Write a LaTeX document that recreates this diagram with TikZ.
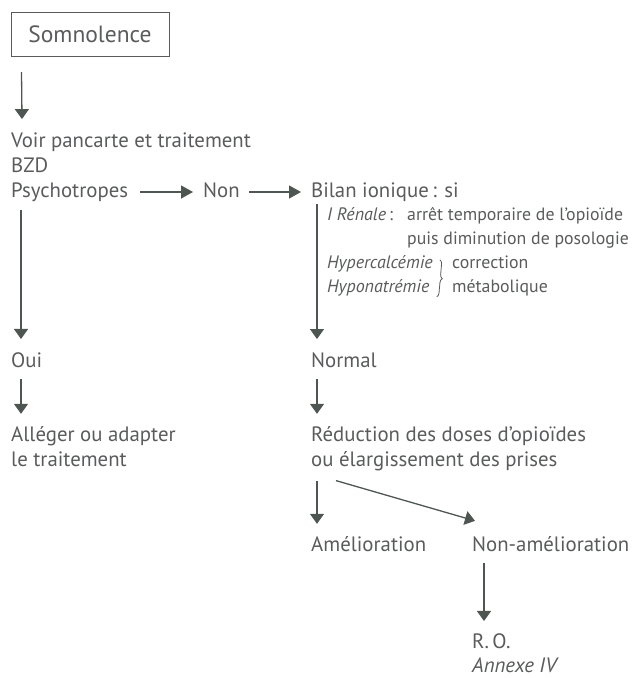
\documentclass[tikz,border=0pt]{standalone}
\usepackage{fontspec}
\setmainfont{PT Sans}
\usetikzlibrary{arrows.meta,decorations.pathreplacing}
\definecolor{txt}{HTML}{5A5B5C}
\definecolor{arrc}{HTML}{4E5652}
\tikzset{
  lbl/.style={anchor=base west,inner sep=0pt,text=txt,font=\fontsize{20.8}{24}\selectfont},
  sublbl/.style={anchor=base west,inner sep=0pt,text=txt,font=\fontsize{17.8}{20}\selectfont},
  itlbl/.style={anchor=base west,inner sep=0pt,text=txt,font=\fontsize{18}{21}\selectfont\itshape},
  arr/.style={draw=arrc,line width=1.3pt,-{Triangle[width=14pt,length=10pt]}},
  arrh/.style={draw=arrc,line width=1.3pt,-{Triangle[width=13pt,length=12pt]}},
  boxst/.style={draw=txt,line width=1pt,minimum width=158pt,minimum height=44pt,inner sep=0pt,text=txt,font=\fontsize{23.5}{26}\selectfont}
}
\begin{document}
\begin{tikzpicture}[x=1pt,y=-1pt]
\useasboundingbox (0,0) rectangle (632,678);
\node[boxst] (somn) at (90,34.5) {Somnolence};
\node[lbl] (voir) at (11,147) {Voir pancarte et traitement};
\node[lbl] (bzd) at (11,172) {BZD};
\node[lbl] (psy) at (11,197) {Psychotropes};
\node[lbl] (non) at (203,197) {Non};
\node[lbl] (bilan) at (311,197) {Bilan ionique\,: si};
\node[itlbl] (iren) at (327,220) {I Rénale\upshape\,:};
\node[sublbl] (arret) at (407,220) {arrêt temporaire de l’opioïde};
\node[sublbl] (puis) at (407,244) {puis diminution de posologie};
\node[itlbl] (hyper) at (327,268) {Hypercalcémie};
\node[itlbl] (hypo) at (327,292) {Hyponatrémie};
\node[sublbl] (corr) at (452,268) {correction};
\node[sublbl] (meta) at (452,292) {métabolique};
\node[lbl] (oui) at (11,367) {Oui};
\node[lbl] (normal) at (311,367) {Normal};
\node[lbl] (all1) at (11,441) {Alléger ou adapter};
\node[lbl] (all2) at (11,466) {le traitement};
\node[lbl] (red1) at (311,441) {Réduction des doses d’opioïdes};
\node[lbl] (red2) at (311,466) {ou élargissement des prises};
\node[lbl] (amel) at (311,551) {Amélioration};
\node[lbl] (namel) at (472,551) {Non-amélioration};
\node[lbl] (ro) at (472,648) {R.\,O.};
\node[lbl] (annexe) at (472,672) {\textit{Annexe IV}};
% connectors
\draw[arr] ([xshift=11pt,yshift=-15pt]somn.south west) -- ([xshift=11pt,yshift=13pt]voir.north west);
\draw[arrh] ([xshift=12pt,yshift=5pt]psy.base east) -- ([xshift=-10pt,yshift=5pt]non.base west);
\draw[arrh] ([xshift=9pt,yshift=5pt]non.base east) -- ([xshift=-10pt,yshift=5pt]bilan.base west);
\draw[arr] ([xshift=10pt,yshift=-13pt]psy.base west) -- ([xshift=10pt,yshift=13pt]oui.north west);
\draw[arr] ([xshift=6pt,yshift=-7pt]bilan.base west) -- ([xshift=6pt,yshift=13pt]normal.north west);
\draw[arr] ([xshift=10pt,yshift=-12pt]oui.south west) -- ([xshift=10pt,yshift=12pt]all1.north west);
\draw[arr] ([xshift=6pt,yshift=-12pt]normal.south west) -- ([xshift=6pt,yshift=12pt]red1.north west);
\draw[arr] ([xshift=6pt,yshift=-10pt]red2.south west) -- ([xshift=6pt,yshift=12pt]amel.north west);
\draw[arr] ([xshift=25pt,yshift=-10pt]red2.south west) -- ([xshift=3pt,yshift=15pt]namel.north west);
\draw[arr] ([xshift=12pt,yshift=-12pt]namel.south west) -- ([xshift=12pt,yshift=12pt]ro.north west);
% brace
\draw[draw=txt,line width=0.8pt,decorate,decoration={brace,amplitude=4pt}] ([xshift=7pt,yshift=-5pt]hyper.north east) -- ([xshift=7pt,yshift=-1pt]hypo.south east);
\end{tikzpicture}
\end{document}
